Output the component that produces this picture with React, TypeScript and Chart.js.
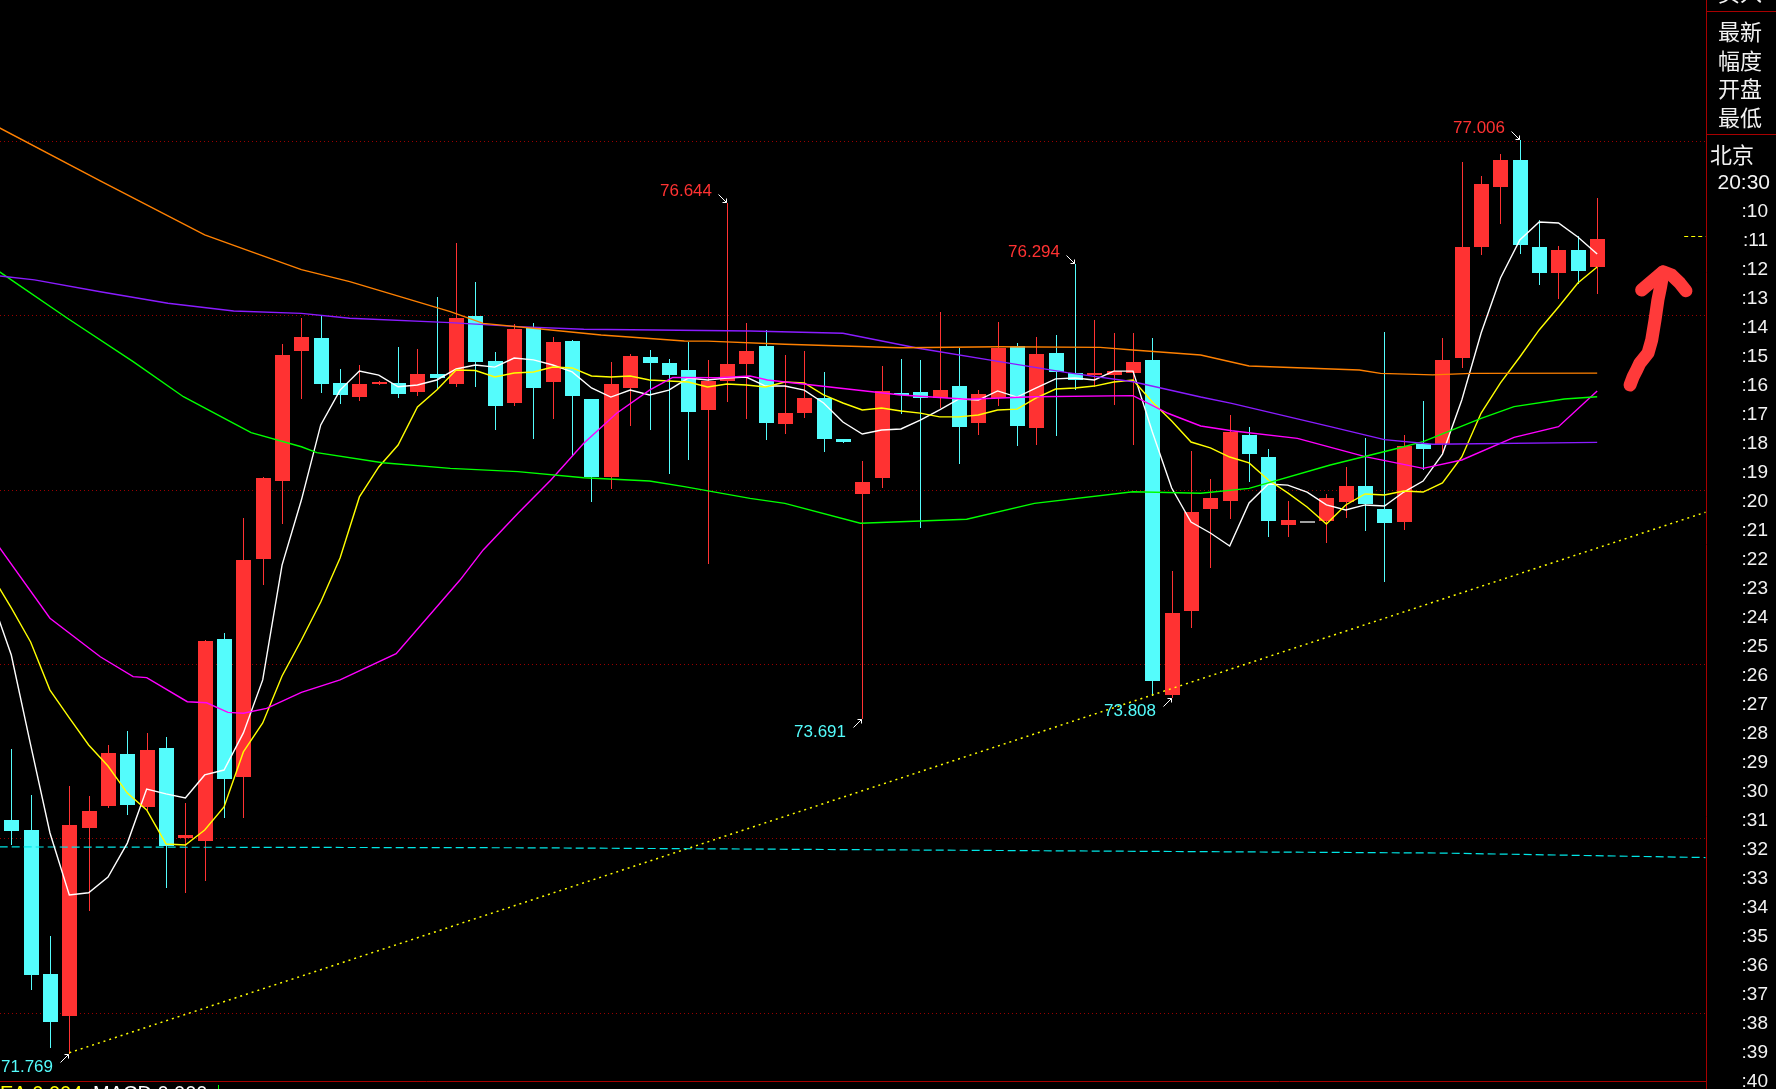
import React, { useEffect, useRef } from "react";
import { Chart, registerables } from "chart.js";

Chart.register(...registerables);

// ---------- candle data (index 0..82) ----------
const opens = [
  73.104, 73.047, 72.221, 71.982, 73.060, 73.185, 73.483, 73.179, 73.516, 73.003,
  72.986, 74.143, 73.353, 74.600, 75.051, 75.797, 75.870, 75.612, 75.533, 75.606,
  75.612, 75.560, 75.663, 75.606, 75.996, 75.738, 75.499, 75.929, 75.616, 75.853,
  75.520, 75.074, 75.585, 75.761, 75.726, 75.686, 75.458, 75.625, 75.722, 75.824,
  75.378, 75.441, 75.526, 75.290, 74.976, 75.068, 75.554, 75.560, 75.527, 75.594,
  75.384, 75.527, 75.824, 75.355, 75.784, 75.669, 75.656, 75.657, 75.671, 75.744,
  73.823, 74.305, 74.890, 74.936, 75.313, 75.187, 74.799, 74.818, 74.820, 74.931,
  75.021, 74.889, 74.816, 75.263, 75.260, 75.757, 76.394, 76.738, 76.891, 76.392,
  76.244, 76.375, 76.279,
];
const closes = [
  73.043, 72.215, 71.946, 73.076, 73.156, 73.490, 73.190, 73.506, 72.957, 73.018,
  74.131, 73.341, 74.596, 75.067, 75.772, 75.876, 75.608, 75.545, 75.606, 75.619,
  75.550, 75.663, 75.640, 75.985, 75.732, 75.480, 75.921, 75.585, 75.847, 75.539,
  75.074, 75.606, 75.766, 75.728, 75.659, 75.447, 75.623, 75.721, 75.795, 75.384,
  75.438, 75.526, 75.292, 75.275, 75.044, 75.566, 75.541, 75.527, 75.571, 75.361,
  75.548, 75.812, 75.367, 75.778, 75.676, 75.631, 75.669, 75.682, 75.732, 73.904,
  74.292, 74.871, 74.952, 75.332, 75.206, 74.822, 74.826, 74.818, 74.952, 75.021,
  74.919, 74.810, 75.252, 75.235, 75.744, 76.392, 76.753, 76.891, 76.405, 76.244,
  76.375, 76.256, 76.438,
];
const highs = [
  73.510, 73.246, 72.439, 73.299, 73.242, 73.535, 73.615, 73.602, 73.579, 73.200,
  74.140, 74.175, 74.839, 75.070, 75.835, 75.985, 76.000, 75.692, 75.715, 75.621,
  75.818, 75.807, 76.105, 76.415, 76.191, 75.789, 75.948, 75.954, 75.874, 75.860,
  75.520, 75.732, 75.778, 75.801, 75.749, 75.847, 75.744, 76.644, 75.956, 75.916,
  75.772, 75.795, 75.675, 75.290, 75.164, 75.709, 75.749, 75.744, 76.019, 75.812,
  75.571, 75.962, 75.841, 75.876, 75.887, 76.294, 75.973, 75.898, 75.898, 75.870,
  74.533, 75.221, 75.061, 75.428, 75.359, 75.233, 74.935, 74.818, 74.977, 75.130,
  75.298, 75.904, 75.313, 75.508, 75.871, 76.881, 76.799, 76.925, 77.006, 76.547,
  76.398, 76.455, 76.671,
];
const lows = [
  72.967, 72.137, 71.804, 71.769, 72.588, 73.180, 73.139, 73.170, 72.722, 72.693,
  72.760, 73.120, 73.120, 74.457, 74.810, 75.527, 75.562, 75.495, 75.514, 75.604,
  75.531, 75.543, 75.579, 75.596, 75.596, 75.349, 75.487, 75.298, 75.413, 75.199,
  74.936, 75.011, 75.372, 75.349, 75.097, 75.174, 74.577, 75.507, 75.413, 75.292,
  75.326, 75.418, 75.223, 75.275, 73.691, 75.017, 75.441, 74.787, 75.476, 75.154,
  75.321, 75.487, 75.258, 75.263, 75.315, 75.579, 75.596, 75.493, 75.263, 73.822,
  73.808, 74.213, 74.558, 74.839, 75.051, 74.736, 74.736, 74.818, 74.701, 74.844,
  74.770, 74.477, 74.776, 75.120, 75.208, 75.705, 76.350, 76.531, 76.356, 76.178,
  76.101, 76.184, 76.126,
];

// ---------- moving averages ----------
const maStartIndex = -1;
const ma5 = [
  74.370,
  74.051, 73.535, 73.030, 72.674, 72.687, 72.777, 72.972, 73.282, 73.254, 73.231,
  73.363, 73.391, 73.604, 73.908, 74.567, 74.940, 75.371, 75.571, 75.680, 75.657,
  75.590, 75.600, 75.629, 75.692, 75.715, 75.703, 75.755, 75.744, 75.715, 75.675,
  75.583, 75.531, 75.571, 75.543, 75.571, 75.640, 75.629, 75.640, 75.646, 75.594,
  75.594, 75.571, 75.497, 75.388, 75.319, 75.342, 75.348, 75.399, 75.457, 75.520,
  75.514, 75.566, 75.531, 75.583, 75.635, 75.640, 75.629, 75.680, 75.680, 75.330,
  75.009, 74.814, 74.751, 74.676, 74.923, 75.032, 75.026, 74.986, 74.912, 74.883,
  74.912, 74.906, 74.986, 75.049, 75.204, 75.514, 75.898, 76.214, 76.432, 76.535,
  76.530, 76.449, 76.352,
];
const ma10 = [
  74.507,
  74.321, 74.126, 73.850, 73.690, 73.535, 73.414, 73.259, 73.162, 72.967, 72.961,
  73.047, 73.179, 73.495, 73.661, 73.931, 74.137, 74.355, 74.608, 74.958, 75.130,
  75.256, 75.474, 75.571, 75.686, 75.683, 75.646, 75.669, 75.675, 75.703, 75.698,
  75.652, 75.646, 75.652, 75.629, 75.623, 75.617, 75.589, 75.606, 75.600, 75.589,
  75.617, 75.612, 75.543, 75.497, 75.457, 75.468, 75.451, 75.439, 75.417, 75.417,
  75.428, 75.457, 75.462, 75.526, 75.577, 75.583, 75.594, 75.617, 75.629, 75.503,
  75.394, 75.273, 75.239, 75.187, 75.153, 75.055, 74.981, 74.900, 74.803, 74.912,
  74.975, 74.969, 74.992, 74.986, 75.038, 75.187, 75.439, 75.612, 75.761, 75.916,
  76.048, 76.185, 76.277,
];
// [candle index, value] readings of the slower averages
const ma20 = [
  [-1, 74.728], [-0.58, 74.663], [2, 74.262], [4.6, 74.041], [6.3, 73.927], [7, 73.921],
  [9.1, 73.783], [10.1, 73.777], [11.2, 73.722], [12, 73.717], [13.2, 73.745], [15, 73.837],
  [17, 73.908], [19.9, 74.059], [23.2, 74.481], [24.4, 74.654], [26.2, 74.864], [27.9, 75.055],
  [29.6, 75.266], [31.3, 75.438], [33, 75.571], [34.2, 75.644], [36.5, 75.642], [38.2, 75.652],
  [39.1, 75.629], [46, 75.543], [49.4, 75.518], [52.9, 75.533], [58, 75.539], [59.8, 75.438],
  [61.5, 75.365], [63.1, 75.338], [66.5, 75.294], [70, 75.189], [73, 75.122], [75, 75.170],
  [77.7, 75.300], [80, 75.361], [82, 75.566],
];
const ma60 = [
  [-1, 76.280], [0, 76.203], [2.9, 75.983], [6.3, 75.734], [8.9, 75.533], [11.5, 75.380],
  [12.4, 75.327], [15, 75.246], [15.8, 75.212], [19.2, 75.154], [22.7, 75.122], [26.2, 75.103],
  [29.6, 75.068], [33, 75.049], [34.8, 75.017], [38.2, 74.950], [40, 74.921], [43.9, 74.807],
  [49.4, 74.830], [52.9, 74.921], [58, 74.988], [61.5, 74.979], [64, 75.007], [68.2, 75.141],
  [71.7, 75.237], [73, 75.275], [76, 75.409], [77.7, 75.476], [80.3, 75.520], [82, 75.533],
];
const ma120 = [
  [-1, 76.231], [1.2, 76.203], [4.6, 76.135], [8.1, 76.069], [11.5, 76.025], [15, 76.011],
  [17.5, 75.983], [22.7, 75.958], [26.2, 75.935], [29.6, 75.920], [38.2, 75.910], [43, 75.897],
  [46.9, 75.811], [51.1, 75.734], [54.6, 75.671], [58, 75.619], [61.5, 75.531], [63.1, 75.495],
  [68.2, 75.361], [71, 75.287], [73.5, 75.260], [82, 75.271],
];
const ma250 = [
  [-1, 77.098], [4.6, 76.771], [10, 76.461], [12.4, 76.365], [15, 76.262], [17.5, 76.193],
  [22.7, 76.021], [24.4, 75.954], [27.9, 75.916], [30.5, 75.887], [34.8, 75.853], [36, 75.852],
  [40, 75.834], [46, 75.814], [51.1, 75.820], [56.3, 75.816], [58, 75.801], [61.5, 75.772],
  [64, 75.709], [69.7, 75.686], [70.8, 75.667], [73.5, 75.658], [75.5, 75.667], [82, 75.668],
];

// reference lines
const cyanLevel = [[-0.6, 72.950], [26.7, 72.945], [73.8, 72.915], [87.6, 72.889]];
const trendLine = [[3, 71.769], [87.6, 74.870]];
const lastPriceMark = [[86.5, 76.452], [87.6, 76.452]];
const gridPrices = [72, 73, 74, 75, 76, 77];

// marked extremes
const peakMarks = [37, 55, 78];
const troughMarks = [3, 44, 60];

// hand drawn arrow (index, price)
const handShaft = [
  [83.70, 75.600], [83.86, 75.648], [84.04, 75.686], [84.21, 75.726], [84.63, 75.784],
  [84.82, 75.858], [84.99, 75.973], [85.14, 76.088], [85.28, 76.164], [85.41, 76.248],
];
const handHead = [[84.30, 76.145], [85.41, 76.250], [85.85, 76.231], [86.28, 76.184], [86.59, 76.141]];

// side panel texts
const quoteLabels = ["最新", "幅度", "开盘", "最低"];
const tradeHeader = ["北京", "20:30"];
const timeRows = [
  ":10", ":11", ":12", ":13", ":14", ":15", ":16", ":17", ":18", ":19", ":20",
  ":21", ":22", ":23", ":24", ":25", ":26", ":27", ":28", ":29", ":30",
  ":31", ":32", ":33", ":34", ":35", ":36", ":37", ":38", ":39", ":40",
];
const indicatorTexts = ["DEA 0.004", "MACD 0.000"];

const UP = "#ff3232";
const DOWN = "#54fcfc";
const FLAT = "#a0a0a0";
const FRAME = "#a80000";
const GRID = "#9a0000";

const pts = (arr: number[][]) => arr.map(([x, y]) => ({ x, y }));

export default function App() {
  const ref = useRef<HTMLCanvasElement>(null);

  useEffect(() => {
    document.body.style.margin = "0";
    document.body.style.background = "#000";
    const canvas = ref.current!;

    const candlePlugin = {
      id: "candles",
      beforeDatasetsDraw(chart: any) {
        const { ctx, chartArea: ca } = chart;
        const x = chart.scales.x;
        const y = chart.scales.y;
        ctx.save();
        ctx.beginPath();
        ctx.rect(ca.left, ca.top, ca.right - ca.left, ca.bottom - ca.top);
        ctx.clip();
        ctx.strokeStyle = GRID;
        ctx.lineWidth = 1;
        ctx.setLineDash([1, 3]);
        gridPrices.forEach((p) => {
          const yy = Math.round(y.getPixelForValue(p)) + 0.5;
          ctx.beginPath();
          ctx.moveTo(ca.left, yy);
          ctx.lineTo(ca.right, yy);
          ctx.stroke();
        });
        ctx.setLineDash([]);
        for (let i = 0; i < opens.length; i++) {
          const o = opens[i];
          const c = closes[i];
          const col = c > o ? UP : c < o ? DOWN : FLAT;
          const xc = Math.round(x.getPixelForValue(i));
          const yh = Math.round(y.getPixelForValue(highs[i]));
          const yl = Math.round(y.getPixelForValue(lows[i]));
          const yt = Math.round(y.getPixelForValue(Math.max(o, c)));
          const yb = Math.round(y.getPixelForValue(Math.min(o, c)));
          ctx.fillStyle = col;
          if (yl > yh) ctx.fillRect(xc, yh, 1, yl - yh + 1);
          ctx.fillRect(xc - 7, yt, 15, Math.max(2, yb - yt));
        }
        ctx.restore();
      },
      afterDraw(chart: any) {
        const { ctx, chartArea: ca } = chart;
        const x = chart.scales.x;
        const y = chart.scales.y;
        const W = chart.width;
        const H = chart.height;
        ctx.save();

        const arrow = (sx: number, sy: number, tx: number, ty: number) => {
          ctx.strokeStyle = "#ffffff";
          ctx.lineWidth = 1;
          ctx.beginPath();
          ctx.moveTo(sx + 0.5, sy + 0.5);
          ctx.lineTo(tx + 0.5, ty + 0.5);
          const dx = Math.sign(tx - sx);
          const dy = Math.sign(ty - sy);
          ctx.moveTo(tx + 0.5 - 4 * dx, ty + 0.5);
          ctx.lineTo(tx + 0.5, ty + 0.5);
          ctx.lineTo(tx + 0.5, ty + 0.5 - 4 * dy);
          ctx.stroke();
        };

        ctx.font = "17px 'Liberation Sans', Arial, sans-serif";
        ctx.textBaseline = "middle";
        ctx.textAlign = "right";
        peakMarks.forEach((i) => {
          const xc = Math.round(x.getPixelForValue(i));
          const yh = Math.round(y.getPixelForValue(highs[i]));
          ctx.fillStyle = UP;
          ctx.fillText(highs[i].toFixed(3), xc - 15, yh - 12);
          arrow(xc - 9, yh - 9, xc - 1, yh - 1);
        });
        troughMarks.forEach((i) => {
          const xc = Math.round(x.getPixelForValue(i));
          const yl = Math.round(y.getPixelForValue(lows[i]));
          ctx.fillStyle = DOWN;
          ctx.fillText(lows[i].toFixed(3), xc - 16, yl + 14);
          arrow(xc - 9, yl + 9, xc - 1, yl + 1);
        });

        // hand drawn arrow
        ctx.strokeStyle = "#ff3a3a";
        ctx.lineWidth = 13;
        ctx.lineCap = "round";
        ctx.lineJoin = "round";
        [handShaft, handHead].forEach((path) => {
          ctx.beginPath();
          path.forEach(([i, p], k) => {
            const px = x.getPixelForValue(i);
            const py = y.getPixelForValue(p);
            if (k === 0) ctx.moveTo(px, py);
            else ctx.lineTo(px, py);
          });
          ctx.stroke();
        });
        ctx.lineCap = "butt";

        // frame
        ctx.strokeStyle = FRAME;
        ctx.lineWidth = 1;
        ctx.beginPath();
        ctx.moveTo(ca.right + 0.5, 0);
        ctx.lineTo(ca.right + 0.5, H);
        ctx.moveTo(0, ca.bottom + 0.5);
        ctx.lineTo(ca.right, ca.bottom + 0.5);
        ctx.moveTo(ca.right, 11.5);
        ctx.lineTo(W, 11.5);
        ctx.moveTo(ca.right, 134.5);
        ctx.lineTo(W, 134.5);
        ctx.stroke();

        // side panel
        ctx.fillStyle = "#f2f2f2";
        ctx.textAlign = "left";
        ctx.textBaseline = "middle";
        ctx.font = "22px 'Noto Sans CJK SC', sans-serif";
        ctx.fillText("买入", 1718, -7);
        quoteLabels.forEach((t, k) => ctx.fillText(t, 1718, 32 + k * 28.4));
        ctx.fillText(tradeHeader[0], 1710, 155);
        ctx.textAlign = "right";
        ctx.font = "21px 'Liberation Sans', Arial, sans-serif";
        ctx.fillText(tradeHeader[1], 1770, 183);
        ctx.font = "19px 'Liberation Sans', Arial, sans-serif";
        timeRows.forEach((t, k) => ctx.fillText(t, 1768, 212 + k * 28.98));

        // indicator line (cut off at bottom)
        ctx.font = "20px 'Liberation Sans', Arial, sans-serif";
        ctx.textAlign = "left";
        ctx.textBaseline = "top";
        const dW = ctx.measureText("D").width;
        ctx.fillStyle = "#ffff00";
        ctx.fillText(indicatorTexts[0], -dW, 1084);
        ctx.fillStyle = UP;
        ctx.fillText("▲", 82, 1084);
        ctx.fillStyle = "#ffffff";
        ctx.fillText(indicatorTexts[1], 93, 1084);
        ctx.fillStyle = "#00ff00";
        ctx.fillRect(218, 1085, 1, 4);

        ctx.restore();
      },
    };

    const line = (data: any[], color: string, extra: any = {}) => ({
      type: "line",
      data,
      borderColor: color,
      borderWidth: 1.4,
      pointRadius: 0,
      tension: 0,
      fill: false,
      ...extra,
    });

    const chart = new Chart(canvas, {
      type: "line",
      data: {
        datasets: [
          line(pts(ma250), "#ff8000"),
          line(pts(ma120), "#8a1cff"),
          line(pts(ma60), "#00ff00"),
          line(pts(ma20), "#ff00ff"),
          line(ma10.map((v, k) => ({ x: k + maStartIndex, y: v })), "#ffff00"),
          line(ma5.map((v, k) => ({ x: k + maStartIndex, y: v })), "#ffffff"),
          line(pts(cyanLevel), "#00e6e6", { borderDash: [8, 4], borderWidth: 1.2 }),
          line(pts(trendLine), "#ffff00", { borderDash: [2, 4], borderWidth: 1.5 }),
          line(pts(lastPriceMark), "#ffff00", { borderDash: [4, 3], borderWidth: 1.2 }),
        ] as any,
      },
      options: {
        responsive: false,
        maintainAspectRatio: false,
        animation: false,
        devicePixelRatio: 1,
        events: [],
        layout: { padding: { left: 0, top: 0, right: 70, bottom: 8 } },
        plugins: { legend: { display: false }, tooltip: { enabled: false } },
        scales: {
          x: { type: "linear", min: -0.584, max: 87.627, display: false },
          y: { type: "linear", min: 71.607, max: 77.809, display: false },
        },
      },
      plugins: [candlePlugin],
    } as any);

    return () => chart.destroy();
  }, []);

  return (
    <div
      style={{
        position: "fixed",
        left: 0,
        top: 0,
        width: 1776,
        height: 1089,
        background: "#000",
        overflow: "hidden",
      }}
    >
      <canvas ref={ref} width={1776} height={1089} style={{ display: "block", width: 1776, height: 1089 }} />
    </div>
  );
}
